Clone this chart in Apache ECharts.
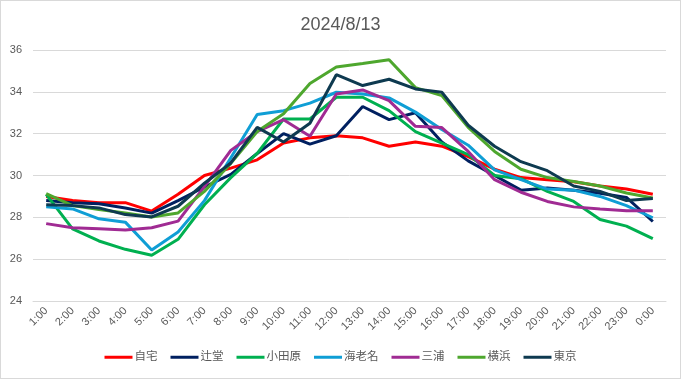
<!DOCTYPE html>
<html>
<head>
<meta charset="utf-8">
<script src="https://cdn.jsdelivr.net/npm/echarts@6/dist/echarts.min.js"></script>
<style>
html,body{margin:0;padding:0;background:#fff;}
#c{width:681px;height:379px;box-sizing:border-box;border:1px solid #D9D9D9;}
</style>
</head>
<body>
<div id="c"></div>
<script>
const hours = ['1:00','2:00','3:00','4:00','5:00','6:00','7:00','8:00','9:00','10:00','11:00','12:00','13:00','14:00','15:00','16:00','17:00','18:00','19:00','20:00','21:00','22:00','23:00','0:00'];
const jitaku   = [29.0,28.8,28.7,28.7,28.3,29.1,30.0,30.35,30.75,31.55,31.8,31.9,31.8,31.4,31.6,31.4,30.9,30.3,29.9,29.8,29.7,29.5,29.35,29.1];
const tsujido  = [28.8,28.7,28.65,28.45,28.2,28.8,29.45,30.05,31.05,32.0,31.5,31.9,33.3,32.67,33.0,31.6,30.7,30.0,29.3,29.4,29.3,29.15,28.95,27.8];
const odawara  = [29.1,27.45,26.87,26.47,26.19,26.95,28.6,29.9,31.06,32.7,32.7,33.74,33.74,33.1,32.1,31.55,31.0,30.0,29.85,29.24,28.76,27.9,27.58,26.98];
const ebina    = [28.5,28.4,27.93,27.77,26.44,27.3,28.8,30.85,32.92,33.1,33.46,33.98,33.9,33.71,33.03,32.2,31.45,30.27,29.8,29.35,29.3,29.0,28.56,27.98];
const miura    = [27.7,27.5,27.45,27.39,27.5,27.82,29.47,31.2,32.1,32.67,31.88,33.9,34.09,33.58,32.35,32.29,31.15,29.8,29.2,28.76,28.5,28.4,28.32,28.32];
const yokohama = [29.13,28.56,28.37,28.21,28.02,28.21,29.24,30.58,32.1,32.95,34.4,35.19,35.35,35.53,34.2,33.82,32.3,31.15,30.3,29.9,29.71,29.5,29.16,28.92];
const tokyo    = [28.6,28.56,28.45,28.13,28.02,28.53,29.63,30.6,32.3,31.6,32.5,34.82,34.3,34.6,34.14,33.98,32.4,31.4,30.66,30.23,29.5,29.24,28.8,28.9];
const seriesNames = ['自宅','辻堂','小田原','海老名','三浦','横浜','東京'];
const seriesData = [jitaku,tsujido,odawara,ebina,miura,yokohama,tokyo];
const colors = ['#FF0000','#002060','#00B050','#0F9ED5','#A02B93','#4EA72E','#0E3A50'];
const yTicks = [24,26,28,30,32,34,36];

const font = "'Liberation Sans', Arial, 'Noto Sans CJK JP', sans-serif";
const chart = echarts.init(document.getElementById('c'));
chart.setOption({
  animation:false,
  color: colors,
  title:{
    text:'2024/8/13', left:'center', top:10,
    textStyle:{color:'#595959', fontSize:18, fontWeight:'normal', fontFamily:font}
  },
  legend:{
    bottom:10, left:'center', itemWidth:28, itemHeight:3, itemGap:13,
    icon:'rect',
    textStyle:{color:'#595959', fontSize:11.5, fontFamily:font, padding:[0,0,0,-3]},
    data: seriesNames
  },
  grid:{left:32, right:14, top:49, bottom:77},
  xAxis:{
    type:'category', data:hours, boundaryGap:true,
    axisLine:{lineStyle:{color:'#D9D9D9'}},
    axisTick:{show:false},
    axisLabel:{rotate:45, color:'#595959', fontSize:11, fontFamily:font, margin:8, interval:0}
  },
  yAxis:{
    type:'value', min:yTicks[0], max:yTicks[yTicks.length-1], interval:2,
    axisLine:{show:false}, axisTick:{show:false},
    axisLabel:{color:'#595959', fontSize:11, fontFamily:font, margin:11},
    splitLine:{lineStyle:{color:'#D9D9D9', width:1}}
  },
  series: seriesNames.map((n,i)=>({
    name:n, type:'line', data:seriesData[i], symbol:'none',
    lineStyle:{width:3, color:colors[i]}, itemStyle:{color:colors[i]}
  }))
});
</script>
</body>
</html>
